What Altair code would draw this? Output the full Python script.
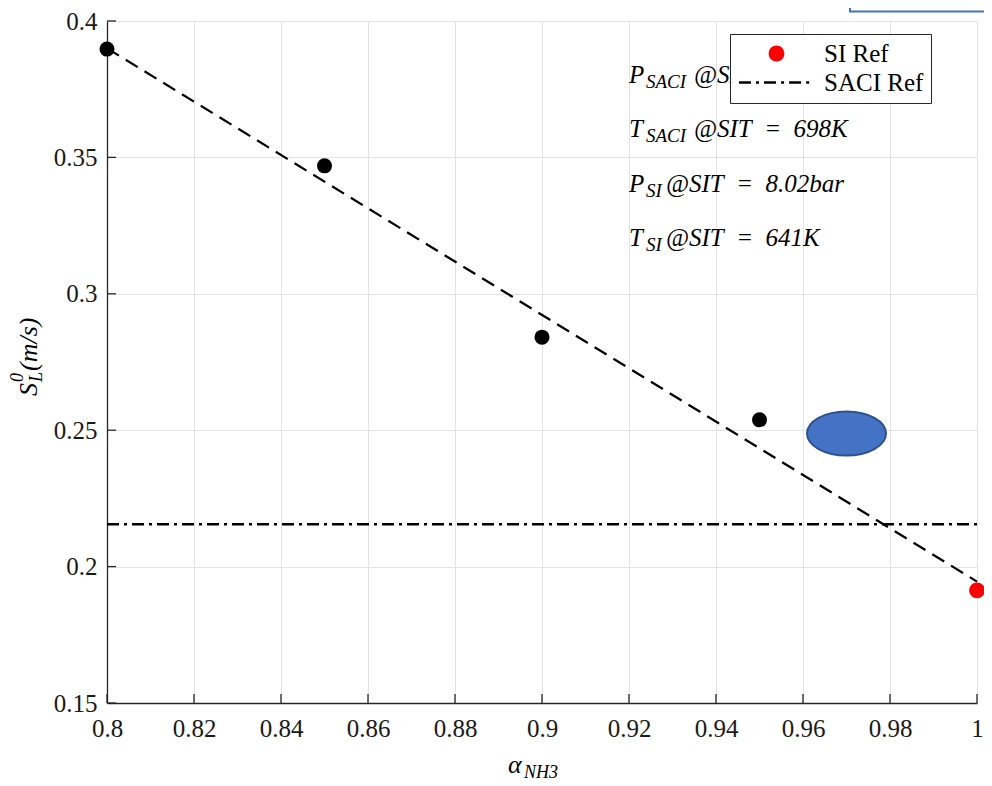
import altair as alt
import pandas as pd

# ---- data ----
alpha = [0.80, 0.85, 0.90, 0.95]
s_l = [0.3897, 0.3469, 0.2841, 0.2538]
si_alpha = [1.00]
si_s = [0.1913]
legend_labels = ["SI Ref", "SACI Ref"]
fit_alpha = [0.80, 1.00]
fit_s = [0.3900, 0.1945]
saci_alpha = [0.80, 1.00]
saci_s = 0.2155
ellipse_alpha = [0.97]
ellipse_s = [0.2488]
box_alpha = [0.9708, 1.10]
box_s = [0.4035, 0.50]
ann_main = ["P", "T", "P", "T"]
ann_sub = ["SACI", "SACI", "SI", "SI"]
ann_rest = ["@SIT", "@SIT\u2002=\u2002698K", "@SIT\u2002=\u20028.02bar", "@SIT\u2002=\u2002641K"]
ann_y = [0.38, 0.36, 0.34, 0.32]
ann_x = 0.92
x_ticks = [0.80, 0.82, 0.84, 0.86, 0.88, 0.90, 0.92, 0.94, 0.96, 0.98, 1.00]
y_ticks = [0.15, 0.20, 0.25, 0.30, 0.35, 0.40]

SERIF = "Liberation Serif"
AX = "#262626"

xs = alt.Scale(domain=[0.8, 1.0], nice=False, zero=False)
ys = alt.Scale(domain=[0.15, 0.4], nice=False, zero=False)

x_axis = alt.Axis(values=x_ticks, format="~g", title=None, grid=True, gridColor="#e3e3e3",
                  gridWidth=1, domainColor=AX, domainWidth=1.3, ticks=False,
                  labelPadding=13, labelFont=SERIF, labelFontSize=25,
                  labelColor="#1a1a1a", labelFlush=False, labelOverlap=False)
y_axis = alt.Axis(values=y_ticks, format="~g", title=None, grid=True, gridColor="#e3e3e3",
                  gridWidth=1, domainColor=AX, domainWidth=1.3, ticks=False,
                  labelPadding=10, labelFont=SERIF, labelFontSize=25,
                  labelColor="#1a1a1a", labelFlush=False, labelOverlap=False)

X = alt.X("a:Q", scale=xs, axis=x_axis)
Y = alt.Y("s:Q", scale=ys, axis=y_axis)

pts_df = pd.DataFrame({"a": alpha, "s": s_l})
si_df = pd.DataFrame({"a": si_alpha, "s": si_s, "label": ["SI Ref"]})
fit_df = pd.DataFrame({"a": fit_alpha, "s": fit_s})
saci_df = pd.DataFrame({"a": [saci_alpha[0]], "a2": [saci_alpha[1]], "s": [saci_s]})
ell_df = pd.DataFrame({"a": ellipse_alpha, "s": ellipse_s})
box_df = pd.DataFrame({"a": [box_alpha[0]], "a2": [box_alpha[1]], "s": [box_s[0]], "s2": [box_s[1]]})
ann_df = pd.DataFrame({"a": [ann_x] * 4, "s": ann_y, "main": ann_main, "sub": ann_sub, "rest": ann_rest})
xt_df = pd.DataFrame({"a": x_ticks, "s": [y_ticks[0]] * len(x_ticks)})
yt_df = pd.DataFrame({"a": [x_ticks[0]] * len(y_ticks), "s": y_ticks})

# dash-dot line drawn as a symbol path for the legend entry
DASHDOT = "M-5.6,0H-3.8M-3.06,0H-2.6M-1.86,0H-0.07M0.68,0H1.13M1.88,0H3.67M4.42,0H4.87"

legend = alt.Legend(
    title=None, orient="none", legendX=623, legendY=13,
    fillColor="white", strokeColor=AX, padding=7,
    labelFont=SERIF, labelFontSize=25, labelColor="black", labelLimit=0,
    symbolSize=180, symbolOffset=27, labelOffset=35, rowPadding=3,
    symbolStrokeWidth=2.5, symbolOpacity=1,
)
lab_field = "label:N"

saci_line = alt.Chart(saci_df).mark_rule(color="black", strokeWidth=2.5, strokeDash=[12, 5, 3, 5]).encode(
    x=X, x2="a2:Q", y=Y)
fit_line = alt.Chart(fit_df).mark_line(color="black", strokeWidth=2.2, strokeDash=[14, 8]).encode(x=X, y=Y)
black_pts = alt.Chart(pts_df).mark_circle(size=225, color="black", opacity=1).encode(x=X, y=Y)
red_pt = alt.Chart(si_df).mark_point(filled=True, size=180, strokeWidth=2.5, opacity=1).encode(
    x=X, y=Y,
    shape=alt.Shape(lab_field, scale=alt.Scale(domain=legend_labels, range=["circle", DASHDOT]), legend=legend),
    fill=alt.Fill(lab_field, scale=alt.Scale(domain=legend_labels, range=["red", "black"]), legend=legend),
    stroke=alt.Stroke(lab_field, scale=alt.Scale(domain=legend_labels, range=["red", "black"]), legend=legend),
)
ellipse = alt.Chart(ell_df).mark_point(
    shape="M-1,0A1,0.557,0,1,0,1,0A1,0.557,0,1,0,-1,0Z", size=6241, filled=True,
    color="#4472C4", stroke="#2F528F", strokeWidth=2, opacity=1, fillOpacity=1, strokeOpacity=1
).encode(x=X, y=Y)
box = alt.Chart(box_df).mark_rect(fill=None, fillOpacity=0, stroke="#4472C4", strokeWidth=2).encode(
    x=X, x2="a2:Q", y=Y, y2="s2:Q")

# inward ticks
x_tick_marks = alt.Chart(xt_df).mark_tick(orient="vertical", size=9, thickness=1.3, color=AX,
                                          opacity=1, yOffset=-4.5).encode(x=X, y=Y)
y_tick_marks = alt.Chart(yt_df).mark_tick(orient="horizontal", size=9, thickness=1.3, color=AX,
                                          opacity=1, xOffset=4.5).encode(x=X, y=Y)

txt = dict(font=SERIF, fontStyle="italic", align="left", baseline="alphabetic", color="black")
ann_main_l = alt.Chart(ann_df).mark_text(fontSize=25, dy=7, **txt).encode(x=X, y=Y, text="main:N")
ann_sub_l = alt.Chart(ann_df).mark_text(fontSize=19, dx=17, dy=12, **txt).encode(x=X, y=Y, text="sub:N")
ann_rest_saci = alt.Chart(ann_df).transform_filter("datum.sub === 'SACI'").mark_text(
    fontSize=25, dx=65, dy=7, **txt).encode(x=X, y=Y, text="rest:N")
ann_rest_si = alt.Chart(ann_df).transform_filter("datum.sub === 'SI'").mark_text(
    fontSize=25, dx=37, dy=7, **txt).encode(x=X, y=Y, text="rest:N")

# axis titles (with sub/superscripts)
def label(text, x, y, size, angle=0):
    kw = dict(txt)
    if angle:
        kw["angle"] = angle
    return alt.Chart(pd.DataFrame({"t": [text]})).mark_text(fontSize=size, **kw).encode(
        x=alt.value(x), y=alt.value(y), text="t:N")

xt1 = label("\u03b1", 401, 752, 26)
xt2 = label("NH3", 417, 757, 18)
yt1 = label("S", -70, 375, 26, 270)
yt2 = label("L", -65, 361, 18, 270)
yt3 = label("0", -84, 361, 18, 270)
yt4 = label("(m/s)", -70, 350, 26, 270)

chart = alt.layer(
    saci_line, fit_line, black_pts, red_pt, ellipse, box, x_tick_marks, y_tick_marks,
    ann_main_l, ann_sub_l, ann_rest_saci, ann_rest_si,
    xt1, xt2, yt1, yt2, yt3, yt4,
).properties(
    width=870, height=682,
    autosize=alt.AutoSizeParams(type="none"),
    padding={"left": 99, "top": 13, "right": 7, "bottom": 78},
    background="white",
).configure_view(stroke=None)

chart.save("out.html", embed_options={"renderer": "svg", "actions": False})
